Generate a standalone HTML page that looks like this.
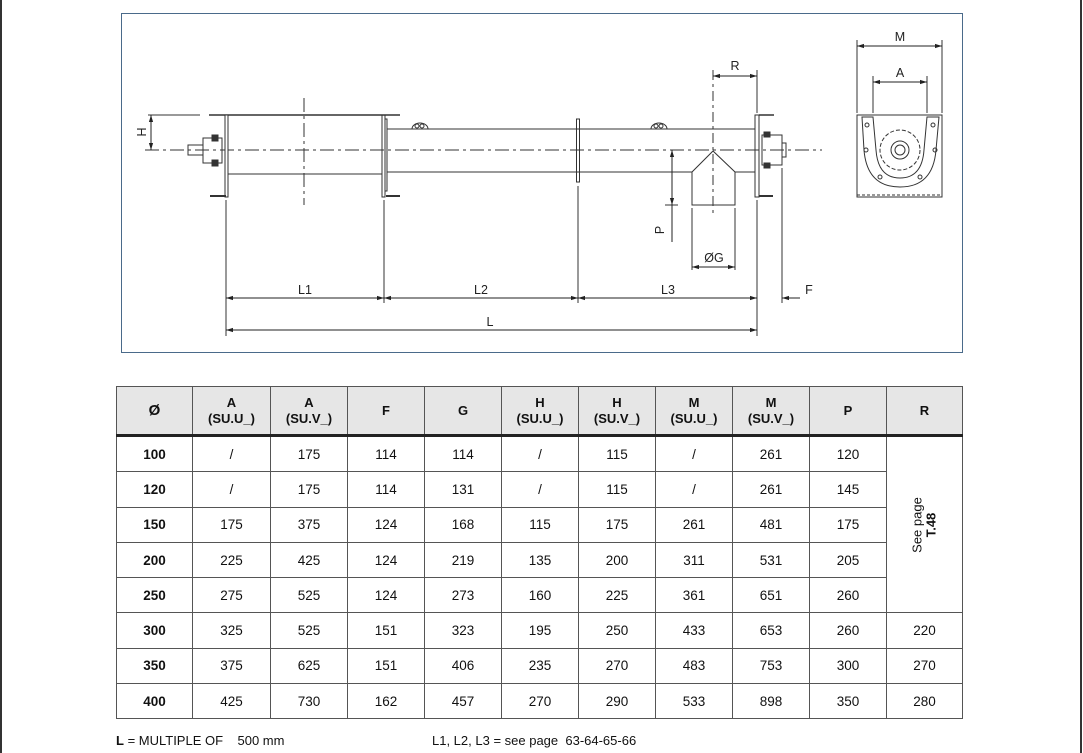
<!DOCTYPE html>
<html><head><style>
body{margin:0;width:1083px;height:753px;background:#fff;position:relative;overflow:hidden;font-family:"Liberation Sans",Arial,sans-serif;}
.lb{position:absolute;left:0;top:0;width:2px;height:753px;background:#333}
.rb{position:absolute;left:1080px;top:0;width:2px;height:753px;background:#333}
table{position:absolute;left:116px;top:386px;border-collapse:collapse;font-size:13.5px;color:#111}
td,th{border:1px solid #555;text-align:center;padding:0;}
th{background:#e6e6e6;height:47px;font-weight:bold;font-size:13px;line-height:16px;border-bottom:3px solid #222}
td{height:34.3px}
td.b{font-weight:bold}
.foot{position:absolute;top:733px;font-size:13px;color:#111}
</style></head><body>
<div class="lb"></div><div class="rb"></div>
<svg width="1083" height="380" style="position:absolute;left:0;top:0" font-family="Liberation Sans,Arial,sans-serif" font-size="12">
<defs><marker id="a" viewBox="0 0 10 10" refX="10" refY="5" markerWidth="7" markerHeight="7" orient="auto-start-reverse"><path d="M0,2L10,5L0,8z" fill="#222"/></marker></defs>
<rect x="121.5" y="13.5" width="841" height="339" fill="none" stroke="#4a6a8a" stroke-width="1"/>
<g stroke="#333" fill="none" stroke-width="1">
<line x1="145" y1="150" x2="822" y2="150" stroke-dasharray="14,4,3,4"/>
<line x1="304" y1="98" x2="304" y2="205" stroke-dasharray="14,4,3,4"/>
<line x1="713" y1="70" x2="713" y2="215" stroke-dasharray="10,4,3,4"/>
<line x1="209" y1="115" x2="400" y2="115" stroke-width="1.5"/>
<line x1="228" y1="174" x2="382" y2="174"/>
<rect x="225" y="115" width="3" height="82" fill="#fff"/>
<line x1="210" y1="196" x2="226" y2="196" stroke-width="2"/>
<rect x="382" y="115" width="3" height="82"/>
<rect x="385" y="119" width="2" height="72"/>
<line x1="386" y1="196" x2="400" y2="196" stroke-width="2"/>
<rect x="203" y="138" width="19" height="25"/>
<rect x="188" y="145" width="15" height="10"/>
<rect x="212" y="135" width="6" height="6" fill="#333"/><rect x="212" y="160" width="6" height="6" fill="#333"/>
<line x1="387" y1="129" x2="755" y2="129"/>
<line x1="387" y1="172" x2="692" y2="172"/>
<line x1="735" y1="172" x2="755" y2="172"/>
<rect x="576.5" y="119" width="3" height="63"/>
<path d="M412 129a8 6 0 0 1 16 0"/><circle cx="417" cy="126" r="2"/><circle cx="422" cy="126" r="2"/>
<path d="M651 129a8 6 0 0 1 16 0"/><circle cx="656" cy="126" r="2"/><circle cx="661" cy="126" r="2"/>
<path d="M692 172L713 151L735 172V205H692Z"/>
<rect x="755" y="115" width="4" height="82"/>
<line x1="759" y1="115" x2="774" y2="115" stroke-width="1.5"/>
<line x1="759" y1="196" x2="773" y2="196" stroke-width="2"/>
<rect x="762" y="135" width="20" height="30"/>
<rect x="782" y="143" width="4" height="14"/>
<rect x="764" y="132" width="6" height="5" fill="#333"/><rect x="764" y="163" width="6" height="5" fill="#333"/>
<rect x="857" y="115" width="85" height="82"/>
<line x1="857" y1="195" x2="942" y2="195" stroke-dasharray="3,2"/>
<path d="M862 117L873 117L876 150Q878 178 900 178Q922 178 924 150L927 117L939 117L936 150Q933 187 900 187Q867 187 864 150Z"/>
<circle cx="900" cy="150" r="20" stroke-dasharray="4,2"/><circle cx="900" cy="150" r="9"/><circle cx="900" cy="150" r="5"/>
<circle cx="867" cy="125" r="2"/><circle cx="933" cy="125" r="2"/><circle cx="866" cy="150" r="2"/><circle cx="935" cy="150" r="2"/><circle cx="880" cy="177" r="2"/><circle cx="920" cy="177" r="2"/>
<line x1="226" y1="200" x2="226" y2="336"/><line x1="384" y1="200" x2="384" y2="303"/>
<line x1="578" y1="186" x2="578" y2="303"/><line x1="757" y1="200" x2="757" y2="336"/>
<line x1="782" y1="168" x2="782" y2="303"/>
<line x1="757" y1="70" x2="757" y2="113"/>
<line x1="692" y1="208" x2="692" y2="270"/><line x1="735" y1="208" x2="735" y2="270"/>
<line x1="665" y1="205" x2="678" y2="205"/>
<line x1="148" y1="115" x2="200" y2="115"/>
<line x1="857" y1="40" x2="857" y2="113"/><line x1="942" y1="40" x2="942" y2="113"/>
<line x1="873" y1="76" x2="873" y2="113"/><line x1="927" y1="76" x2="927" y2="113"/>
</g>
<g stroke="#222" stroke-width="1" fill="none">
<line x1="226" y1="298" x2="384" y2="298" marker-start="url(#a)" marker-end="url(#a)"/>
<line x1="384" y1="298" x2="578" y2="298" marker-start="url(#a)" marker-end="url(#a)"/>
<line x1="578" y1="298" x2="757" y2="298" marker-start="url(#a)" marker-end="url(#a)"/>
<line x1="800" y1="298" x2="782" y2="298" marker-end="url(#a)"/>
<line x1="226" y1="330" x2="757" y2="330" marker-start="url(#a)" marker-end="url(#a)"/>
<line x1="713" y1="76" x2="757" y2="76" marker-start="url(#a)" marker-end="url(#a)"/>
<line x1="692" y1="267" x2="735" y2="267" marker-start="url(#a)" marker-end="url(#a)"/>
<line x1="672" y1="150" x2="672" y2="205" marker-start="url(#a)" marker-end="url(#a)"/>
<line x1="672" y1="205" x2="672" y2="242"/>
<line x1="151" y1="115" x2="151" y2="150" marker-start="url(#a)" marker-end="url(#a)"/>
<line x1="857" y1="46" x2="942" y2="46" marker-start="url(#a)" marker-end="url(#a)"/>
<line x1="873" y1="82" x2="927" y2="82" marker-start="url(#a)" marker-end="url(#a)"/>
</g>
<g fill="#222" text-anchor="middle" font-size="12.5">
<text x="305" y="294">L1</text><text x="481" y="294">L2</text><text x="668" y="294">L3</text><text x="809" y="294">F</text>
<text x="490" y="326">L</text><text x="735" y="70">R</text><text x="714" y="262">ØG</text>
<text x="900" y="41">M</text><text x="900" y="77">A</text>
<text transform="translate(664,230) rotate(-90)">P</text>
<text transform="translate(146,132) rotate(-90)">H</text>
</g>
</svg>
<table>
<colgroup><col style="width:76px"><col style="width:78px"><col style="width:77px"><col style="width:77px"><col style="width:77px"><col style="width:77px"><col style="width:77px"><col style="width:77px"><col style="width:77px"><col style="width:77px"><col style="width:76px"></colgroup>
<tr><th style="font-size:15px">Ø</th><th>A<br>(SU.U_)</th><th>A<br>(SU.V_)</th><th>F</th><th>G</th><th>H<br>(SU.U_)</th><th>H<br>(SU.V_)</th><th>M<br>(SU.U_)</th><th>M<br>(SU.V_)</th><th>P</th><th>R</th></tr>
<tr><td class="b">100</td><td>/</td><td>175</td><td>114</td><td>114</td><td>/</td><td>115</td><td>/</td><td>261</td><td>120</td><td rowspan="5"><div style="transform:rotate(-90deg);font-size:13px;line-height:14px">See page<br><b>T.48</b></div></td></tr>
<tr><td class="b">120</td><td>/</td><td>175</td><td>114</td><td>131</td><td>/</td><td>115</td><td>/</td><td>261</td><td>145</td></tr>
<tr><td class="b">150</td><td>175</td><td>375</td><td>124</td><td>168</td><td>115</td><td>175</td><td>261</td><td>481</td><td>175</td></tr>
<tr><td class="b">200</td><td>225</td><td>425</td><td>124</td><td>219</td><td>135</td><td>200</td><td>311</td><td>531</td><td>205</td></tr>
<tr><td class="b">250</td><td>275</td><td>525</td><td>124</td><td>273</td><td>160</td><td>225</td><td>361</td><td>651</td><td>260</td></tr>
<tr><td class="b">300</td><td>325</td><td>525</td><td>151</td><td>323</td><td>195</td><td>250</td><td>433</td><td>653</td><td>260</td><td>220</td></tr>
<tr><td class="b">350</td><td>375</td><td>625</td><td>151</td><td>406</td><td>235</td><td>270</td><td>483</td><td>753</td><td>300</td><td>270</td></tr>
<tr><td class="b">400</td><td>425</td><td>730</td><td>162</td><td>457</td><td>270</td><td>290</td><td>533</td><td>898</td><td>350</td><td>280</td></tr>
</table>
<div class="foot" style="left:116px"><b>L</b> = MULTIPLE OF &nbsp;&nbsp; 500 mm</div>
<div class="foot" style="left:432px">L1, L2, L3 = see page &nbsp;63-64-65-66</div>
</body></html>
